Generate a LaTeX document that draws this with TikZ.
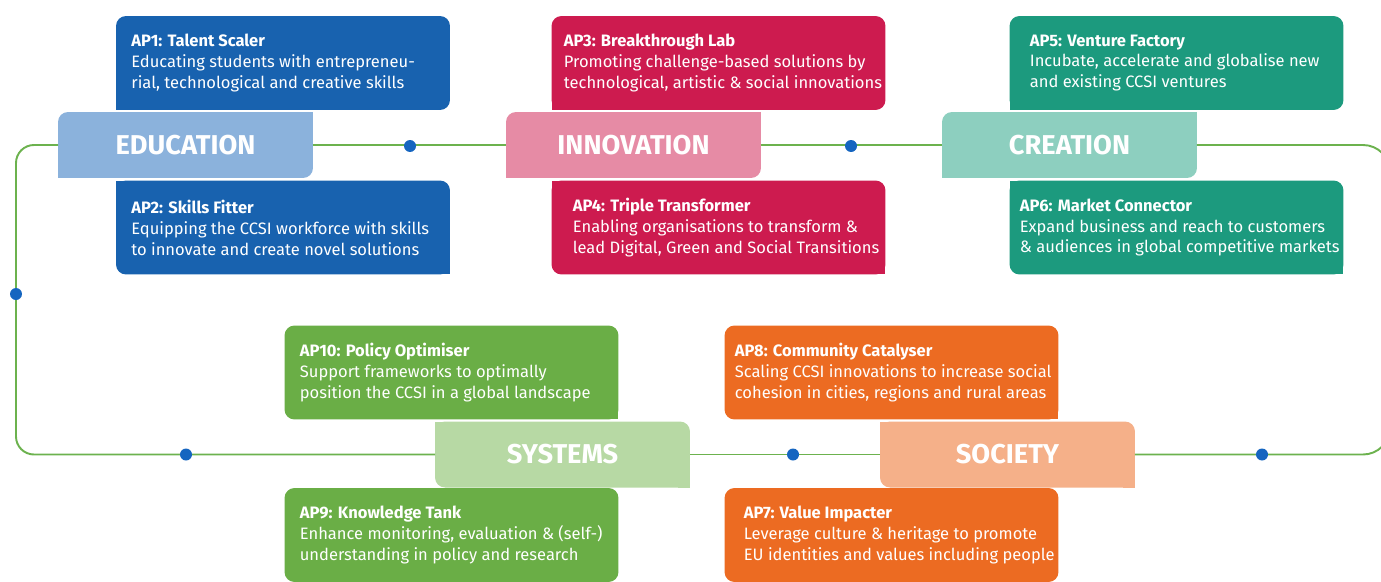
\documentclass[tikz,border=0pt]{standalone}
\usepackage{fontspec}
\setmainfont{Fira Sans}
\usepackage{xcolor}
\usepackage{tikz}
\usetikzlibrary{positioning}

\definecolor{eduDark}{RGB}{24,98,175}
\definecolor{eduLight}{RGB}{139,178,220}
\definecolor{innDark}{RGB}{205,27,79}
\definecolor{innLight}{RGB}{230,139,165}
\definecolor{creDark}{RGB}{28,154,126}
\definecolor{creLight}{RGB}{141,207,191}
\definecolor{sysDark}{RGB}{106,174,70}
\definecolor{sysLight}{RGB}{183,217,164}
\definecolor{socDark}{RGB}{236,107,34}
\definecolor{socLight}{RGB}{245,176,137}
\definecolor{lineGreen}{RGB}{108,178,78}
\definecolor{dotBlue}{RGB}{21,101,192}

\begin{document}
\begin{tikzpicture}[x=0.02cm,y=-0.02cm,
        apbox/.style={fill=#1,rounded corners=0.2cm,minimum width=6.68cm,minimum height=1.88cm,inner sep=0pt,outer sep=0pt},
        aptext/.style={anchor=west,align=left,text=white,inner sep=0pt,font=\fontsize{9.4}{11.9}\selectfont},
        area/.style={fill=#1,rounded corners=0.2cm,minimum width=5.1cm,minimum height=1.32cm,inner sep=0pt,outer sep=0pt,text=white,font=\fontsize{15.5}{15.5}\selectfont\bfseries},
        cycleline/.style={draw=lineGreen,line width=1.1pt,rounded corners=0.36cm},
        bullet/.style={circle,fill=dotBlue,minimum size=0.24cm,inner sep=0pt}]
        \useasboundingbox (0,0) rectangle (1381,581);

        \node[apbox=eduDark] (ap1) at (283,63) {};
        \node[apbox=eduDark] (ap2) at (283,227.5) {};
        \node[apbox=innDark] (ap3) at (718.5,63) {};
        \node[apbox=innDark] (ap4) at (718.5,227.5) {};
        \node[apbox=creDark] (ap5) at (1176.5,63) {};
        \node[apbox=creDark] (ap6) at (1176.5,227.5) {};
        \node[apbox=sysDark] (ap10) at (451.5,372.5) {};
        \node[apbox=sysDark] (ap9) at (451.5,535) {};
        \node[apbox=socDark] (ap8) at (891.5,372.5) {};
        \node[apbox=socDark] (ap7) at (891.5,535) {};

        \fill[eduDark] (ap1.south west) rectangle ++(12,-12);
        \fill[eduDark] (ap2.north west) rectangle ++(12,12);
        \fill[eduDark] (ap2.south east) rectangle ++(-12,-12);
        \fill[innDark] (ap3.south west) rectangle ++(12,-12);
        \fill[innDark] (ap4.north west) rectangle ++(12,12);
        \fill[innDark] (ap4.south east) rectangle ++(-12,-12);
        \fill[creDark] (ap5.south west) rectangle ++(12,-12);
        \fill[creDark] (ap6.north west) rectangle ++(12,12);
        \fill[creDark] (ap6.south east) rectangle ++(-12,-12);
        \fill[sysDark] (ap10.south east) rectangle ++(-12,-12);
        \fill[socDark] (ap8.south east) rectangle ++(-12,-12);

        \node[area=eduLight] (edu) at (185.5,145) {EDUCATION};
        \node[area=innLight] (inn) at (633.5,145) {INNOVATION};
        \node[area=creLight] (cre) at (1069.5,145) {CREATION};
        \node[area=sysLight] (sys) at (562.5,454.5) {SYSTEMS};
        \node[area=socLight] (soc) at (1007.5,454.5) {SOCIETY};

        \fill[eduLight] (edu.north east) rectangle ++(-12,12);
        \fill[eduLight] (edu.south west) rectangle ++(12,-12);
        \fill[innLight] (inn.north east) rectangle ++(-12,12);
        \fill[innLight] (inn.south west) rectangle ++(12,-12);
        \fill[creLight] (cre.north east) rectangle ++(-12,12);
        \fill[creLight] (cre.south west) rectangle ++(12,-12);
        \fill[sysLight] (sys.north west) rectangle ++(12,12);
        \fill[sysLight] (sys.south east) rectangle ++(-12,-12);
        \fill[socLight] (soc.north west) rectangle ++(12,12);
        \fill[socLight] (soc.south east) rectangle ++(-12,-12);

        \node[aptext] (ap1t) at ([xshift=0.3cm]ap1.west) {\textbf{AP1: Talent Scaler}\\Educating students with entrepreneu-\\rial, technological and creative skills};
        \node[aptext] (ap2t) at ([xshift=0.3cm]ap2.west) {\textbf{AP2: Skills Fitter}\\Equipping the CCSI workforce with skills\\to innovate and create novel solutions};
        \node[aptext] (ap3t) at ([xshift=0.24cm]ap3.west) {\textbf{AP3: Breakthrough Lab}\\Promoting challenge-based solutions by\\technological, artistic \& social innovations};
        \node[aptext] (ap4t) at ([xshift=0.42cm]ap4.west) {\textbf{AP4: Triple Transformer}\\Enabling organisations to transform \&\\lead Digital, Green and Social Transitions};
        \node[aptext] (ap5t) at ([xshift=0.4cm]ap5.west) {\textbf{AP5: Venture Factory}\\Incubate, accelerate and globalise new\\and existing CCSI ventures};
        \node[aptext] (ap6t) at ([xshift=0.2cm]ap6.west) {\textbf{AP6: Market Connector}\\Expand business and reach to customers\\\& audiences in global competitive markets};
        \node[aptext] (ap10t) at ([xshift=0.3cm]ap10.west) {\textbf{AP10: Policy Optimiser}\\Support frameworks to optimally\\position the CCSI in a global landscape};
        \node[aptext] (ap9t) at ([xshift=0.3cm]ap9.west) {\textbf{AP9: Knowledge Tank}\\Enhance monitoring, evaluation \& (self-)\\understanding in policy and research};
        \node[aptext] (ap8t) at ([xshift=0.2cm]ap8.west) {\textbf{AP8: Community Catalyser}\\Scaling CCSI innovations to increase social\\cohesion in cities, regions and rural areas};
        \node[aptext] (ap7t) at ([xshift=0.38cm]ap7.west) {\textbf{AP7: Value Impacter}\\Leverage culture \& heritage to promote\\EU identities and values including people};

        \coordinate (lside) at (16,294);
        \coordinate (rside) at (1390,294);

        \draw[cycleline] (edu.east) -- (inn.west);
        \draw[cycleline] (inn.east) -- (cre.west);
        \draw[cycleline,rounded corners=0.54cm] (cre.east) -- (cre.east -| rside) -- (soc.east -| rside) -- (soc.east);
        \draw[cycleline] (soc.west) -- (sys.east);
        \draw[cycleline] (sys.west) -- (sys.west -| lside) -- (edu.west -| lside) -- (edu.west);

        \node[bullet] (b1) at (410,146) {};
        \node[bullet] (b2) at (851,146) {};
        \node[bullet] (b3) at (lside) {};
        \node[bullet] (b4) at (186,454.5) {};
        \node[bullet] (b5) at (793,454.5) {};
        \node[bullet] (b6) at (1262,454.5) {};
    \end{tikzpicture}
\end{document}
